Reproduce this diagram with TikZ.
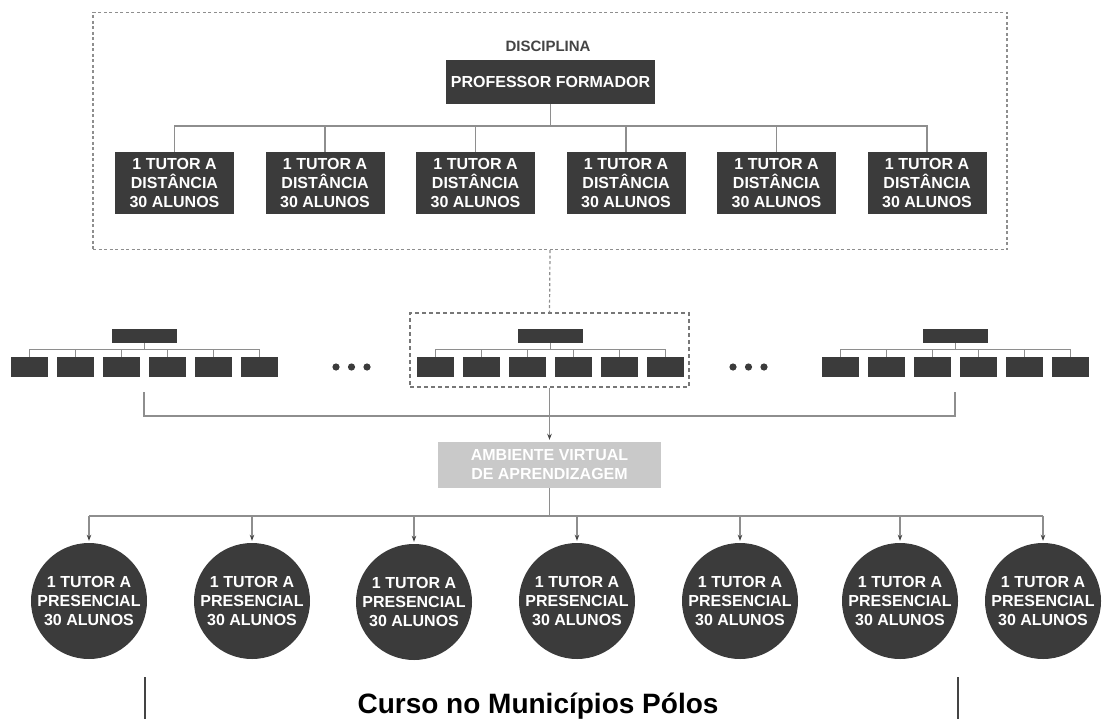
\documentclass[tikz,border=0pt]{standalone}
\usepackage{fontspec}
\setmainfont{Liberation Sans}
\usetikzlibrary{arrows.meta}
\definecolor{boxgray}{HTML}{3B3B3B}
\definecolor{linegray}{HTML}{8E8E8E}
\definecolor{dashgray}{HTML}{777777}
\definecolor{avagray}{HTML}{C9C9C9}
\definecolor{textgray}{HTML}{444444}
\newcommand{\ts}{150.5}
\newcommand{\ms}{46}

\begin{document}
\begin{tikzpicture}[x=1pt,y=-1pt,
    tutor/.style={rectangle, fill=boxgray, text=white, minimum width=119, minimum height=62, inner sep=0pt, align=center, font=\fontsize{16}{19}\selectfont\bfseries},
    prof/.style={tutor, minimum width=209, minimum height=44},
    mini/.style={rectangle, fill=boxgray, minimum width=37, minimum height=20, inner sep=0pt},
    minitop/.style={mini, minimum width=65, minimum height=14},
    ava/.style={tutor, fill=avagray, minimum width=223, minimum height=46},
    polo/.style={circle, fill=boxgray, text=white, minimum size=116, inner sep=0pt, align=center, font=\fontsize{16}{19}\selectfont\bfseries},
    discbox/.style={rectangle, draw=linegray, line width=1.2pt, dash pattern=on 3pt off 2.5pt, inner sep=0pt},
    grpbox/.style={discbox, draw=dashgray, dash pattern=on 4pt off 3pt},
    link/.style={draw=linegray, line width=1.1pt},
    linkarrow/.style={link, -{Stealth[length=6pt,width=4.5pt,color=textgray]}, shorten >=2pt},
    bar/.style={draw=textgray, line width=2pt}]
    \useasboundingbox (0,0) rectangle (1102,719);

    % Disciplina
    \node[discbox, minimum width=914, minimum height=237] (disc) at (550,131) {};
    \node[font=\fontsize{15}{18}\selectfont\bfseries, text=textgray] (disc-label) at (548,46) {DISCIPLINA};
    \node[prof] (prof) at (550.5,82) {PROFESSOR FORMADOR};
    \coordinate (tbus) at (550,126);

    \node[tutor] (tutor-1) at (174.5+0*\ts,183) {1 TUTOR A\\DISTÂNCIA\\30 ALUNOS};
    \node[tutor] (tutor-2) at (174.5+1*\ts,183) {1 TUTOR A\\DISTÂNCIA\\30 ALUNOS};
    \node[tutor] (tutor-3) at (174.5+2*\ts,183) {1 TUTOR A\\DISTÂNCIA\\30 ALUNOS};
    \node[tutor] (tutor-4) at (174.5+3*\ts,183) {1 TUTOR A\\DISTÂNCIA\\30 ALUNOS};
    \node[tutor] (tutor-5) at (174.5+4*\ts,183) {1 TUTOR A\\DISTÂNCIA\\30 ALUNOS};
    \node[tutor] (tutor-6) at (174.5+5*\ts,183) {1 TUTOR A\\DISTÂNCIA\\30 ALUNOS};

    \draw[link] (prof.south) -- (prof.south |- tbus);
    \draw[link] (tutor-1.north) -- (tutor-1.north |- tbus) -- (tutor-6.north |- tbus) -- (tutor-6.north);
    \draw[link] (tutor-2.north) -- (tutor-2.north |- tbus)
                (tutor-3.north) -- (tutor-3.north |- tbus)
                (tutor-4.north) -- (tutor-4.north |- tbus)
                (tutor-5.north) -- (tutor-5.north |- tbus);

    % Left group
    \node[minitop] (gL-top) at (144,336) {};
    \coordinate (gL-bus) at (144,349);
    \node[mini] (gL-1) at (144-2.5*\ms,367) {};
    \node[mini] (gL-2) at (144-1.5*\ms,367) {};
    \node[mini] (gL-3) at (144-0.5*\ms,367) {};
    \node[mini] (gL-4) at (144+0.5*\ms,367) {};
    \node[mini] (gL-5) at (144+1.5*\ms,367) {};
    \node[mini] (gL-6) at (144+2.5*\ms,367) {};
    \draw[link, line width=0.8pt] (gL-top.south) -- (gL-bus);
    \draw[link, line width=0.8pt] (gL-1.north) -- (gL-1.north |- gL-bus) -- (gL-6.north |- gL-bus) -- (gL-6.north);
    \draw[link, line width=0.8pt] (gL-2.north) -- (gL-2.north |- gL-bus) (gL-3.north) -- (gL-3.north |- gL-bus)
                                  (gL-4.north) -- (gL-4.north |- gL-bus) (gL-5.north) -- (gL-5.north |- gL-bus);

    % Center group
    \node[grpbox, minimum width=279, minimum height=74] (grpC) at (549.5,350) {};
    \node[minitop] (gC-top) at (550,336) {};
    \coordinate (gC-bus) at (550,349);
    \node[mini] (gC-1) at (550-2.5*\ms,367) {};
    \node[mini] (gC-2) at (550-1.5*\ms,367) {};
    \node[mini] (gC-3) at (550-0.5*\ms,367) {};
    \node[mini] (gC-4) at (550+0.5*\ms,367) {};
    \node[mini] (gC-5) at (550+1.5*\ms,367) {};
    \node[mini] (gC-6) at (550+2.5*\ms,367) {};
    \draw[link, line width=0.8pt] (gC-top.south) -- (gC-bus);
    \draw[link, line width=0.8pt] (gC-1.north) -- (gC-1.north |- gC-bus) -- (gC-6.north |- gC-bus) -- (gC-6.north);
    \draw[link, line width=0.8pt] (gC-2.north) -- (gC-2.north |- gC-bus) (gC-3.north) -- (gC-3.north |- gC-bus)
                                  (gC-4.north) -- (gC-4.north |- gC-bus) (gC-5.north) -- (gC-5.north |- gC-bus);

    % Right group
    \node[minitop] (gR-top) at (955,336) {};
    \coordinate (gR-bus) at (955,349);
    \node[mini] (gR-1) at (955-2.5*\ms,367) {};
    \node[mini] (gR-2) at (955-1.5*\ms,367) {};
    \node[mini] (gR-3) at (955-0.5*\ms,367) {};
    \node[mini] (gR-4) at (955+0.5*\ms,367) {};
    \node[mini] (gR-5) at (955+1.5*\ms,367) {};
    \node[mini] (gR-6) at (955+2.5*\ms,367) {};
    \draw[link, line width=0.8pt] (gR-top.south) -- (gR-bus);
    \draw[link, line width=0.8pt] (gR-1.north) -- (gR-1.north |- gR-bus) -- (gR-6.north |- gR-bus) -- (gR-6.north);
    \draw[link, line width=0.8pt] (gR-2.north) -- (gR-2.north |- gR-bus) (gR-3.north) -- (gR-3.north |- gR-bus)
                                  (gR-4.north) -- (gR-4.north |- gR-bus) (gR-5.north) -- (gR-5.north |- gR-bus);

    % dots between the groups
    \fill[boxgray] (336,367) circle (3.6) (351.5,367) circle (3.6) (367,367) circle (3.6);
    \fill[boxgray] (733,367) circle (3.6) (748.5,367) circle (3.6) (764,367) circle (3.6);

    \draw[discbox] (disc.south) -- (grpC.north);

    % Ambiente virtual
    \coordinate (gL-foot) at (144,392);
    \coordinate (gR-foot) at (955,392);
    \coordinate (gbus) at (550,416);
    \node[ava] (ava) at (549.5,465) {AMBIENTE VIRTUAL\\DE APRENDIZAGEM};
    \draw[link] (gL-foot) -- (gL-foot |- gbus) -- (gR-foot |- gbus) -- (gR-foot);
    \draw[linkarrow] (grpC.south) -- (ava.north);

    % Polos
    \coordinate (pbus) at (549.5,516);
    \node[polo] (polo-1) at (89,601) {1 TUTOR A\\PRESENCIAL\\30 ALUNOS};
    \node[polo] (polo-2) at (252,601) {1 TUTOR A\\PRESENCIAL\\30 ALUNOS};
    \node[polo] (polo-3) at (414,602) {1 TUTOR A\\PRESENCIAL\\30 ALUNOS};
    \node[polo] (polo-4) at (577,601) {1 TUTOR A\\PRESENCIAL\\30 ALUNOS};
    \node[polo] (polo-5) at (740,601) {1 TUTOR A\\PRESENCIAL\\30 ALUNOS};
    \node[polo] (polo-6) at (900,601) {1 TUTOR A\\PRESENCIAL\\30 ALUNOS};
    \node[polo] (polo-7) at (1043,601) {1 TUTOR A\\PRESENCIAL\\30 ALUNOS};

    \draw[link] (ava.south) -- (ava.south |- pbus);
    \draw[link] (polo-1.north |- pbus) -- (polo-7.north |- pbus);
    \draw[linkarrow] (polo-1.north |- pbus) -- (polo-1.north);
    \draw[linkarrow] (polo-2.north |- pbus) -- (polo-2.north);
    \draw[linkarrow] (polo-3.north |- pbus) -- (polo-3.north);
    \draw[linkarrow] (polo-4.north |- pbus) -- (polo-4.north);
    \draw[linkarrow] (polo-5.north |- pbus) -- (polo-5.north);
    \draw[linkarrow] (polo-6.north |- pbus) -- (polo-6.north);
    \draw[linkarrow] (polo-7.north |- pbus) -- (polo-7.north);

    % Curso
    \node[anchor=base, font=\fontsize{28}{32}\selectfont\bfseries] (curso) at (538,713) {Curso no Municípios Pólos};
    \draw[bar] (145,677) -- (145,719);
    \draw[bar] (958,677) -- (958,719);

\end{tikzpicture}
\end{document}
